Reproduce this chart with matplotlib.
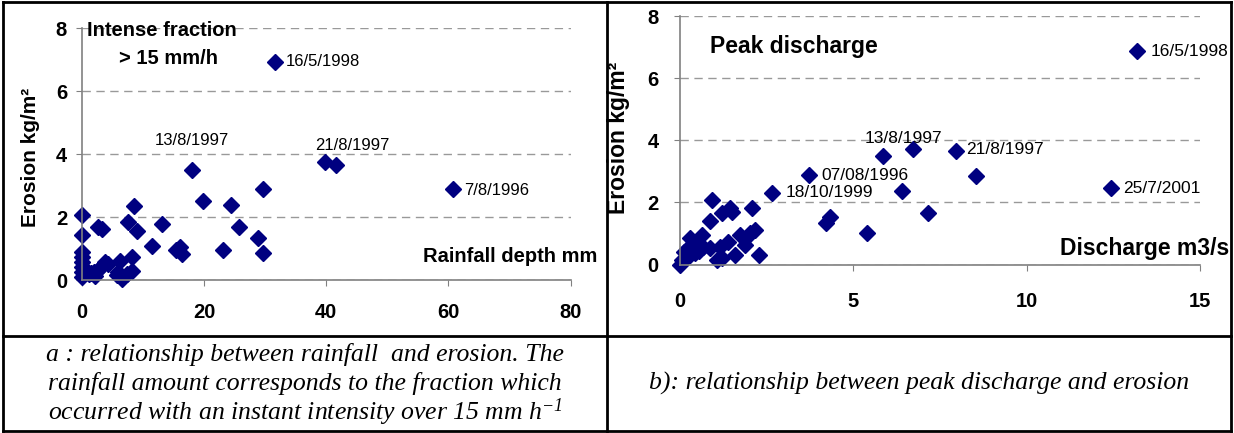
import matplotlib
matplotlib.use("Agg")
import matplotlib.pyplot as plt
from matplotlib.lines import Line2D

plt.rcParams['font.family'] = ['Liberation Sans', 'DejaVu Sans']
plt.rcParams['font.weight'] = 'bold'
plt.rcParams['mathtext.fontset'] = 'custom'
plt.rcParams['mathtext.it'] = 'Liberation Serif:italic:normal'
plt.rcParams['mathtext.rm'] = 'Liberation Serif:italic:normal'

# panel a: intense rainfall fraction (mm) vs erosion (kg/m2)
rain_mm = [0, 0, 0, 0, 0, 0, 0, 0, 0.8, 1.2, 1.6, 2.0, 2.2, 2.5, 2.7, 3.3, 3.3,
           3.8, 4.3, 5.8, 6.0, 6.3, 6.6, 7.4, 7.6, 8.2, 8.2, 8.5, 9.0, 11.5,
           13.1, 15.5, 16.1, 16.4, 18.0, 19.8, 23.1, 24.5, 25.8, 28.8, 29.6,
           29.6, 31.6, 39.8, 41.6, 60.8]
erosion_a = [2.08, 1.44, 0.88, 0.72, 0.56, 0.40, 0.25, 0.09, 0.30, 0.20, 0.22,
             0.25, 0.14, 0.30, 1.70, 1.63, 0.46, 0.56, 0.52, 0.15, 0.25, 0.62,
             0.04, 0.20, 1.84, 0.30, 0.72, 2.34, 1.56, 1.09, 1.79, 0.97, 1.06,
             0.84, 3.51, 2.51, 0.97, 2.38, 1.69, 1.32, 2.89, 0.87, 6.93, 3.76,
             3.67, 2.89]
xticks_a = [0, 20, 40, 60, 80]
labels_a = ["16/5/1998", "13/8/1997", "21/8/1997", "7/8/1996"]
label_pos_a = [(33.4, 6.93, 'left'), (18.1, 4.44, 'center'),
               (44.3, 4.29, 'center'), (62.6, 2.86, 'left')]

# panel b: peak discharge (m3/s) vs erosion (kg/m2)
discharge = [0.0, 0.05, 0.1, 0.19, 0.2, 0.29, 0.3, 0.34, 0.43, 0.48, 0.55, 0.63,
             0.67, 0.87, 0.87, 0.91, 1.06, 1.15, 1.2, 1.2, 1.39, 1.44, 1.49,
             1.59, 1.73, 1.87, 1.92, 2.02, 2.07, 2.16, 2.29, 2.66, 3.72, 4.2,
             4.33, 5.40, 5.85, 6.39, 6.71, 7.16, 7.95, 8.53, 12.42, 13.17]
erosion_b = [0.0, 0.14, 0.41, 0.25, 0.5, 0.84, 0.3, 0.63, 0.36, 0.73, 0.45,
             0.95, 0.57, 0.52, 1.41, 2.08, 0.14, 0.57, 0.2, 1.65, 0.73, 1.81,
             1.70, 0.31, 0.95, 0.63, 0.90, 1.0, 1.81, 1.11, 0.31, 2.31, 2.88,
             1.35, 1.54, 1.0, 3.49, 2.37, 3.71, 1.65, 3.65, 2.85, 2.47, 6.88]
xticks_b = [0, 5, 10, 15]
labels_b = ["16/5/1998", "13/8/1997", "21/8/1997", "07/08/1996",
            "18/10/1999", "25/7/2001"]
label_pos_b = [(13.56, 6.85, 'left'), (6.45, 4.06, 'center'),
               (8.24, 3.71, 'left'), (4.09, 2.88, 'left'),
               (3.05, 2.31, 'left'), (12.79, 2.45, 'left')]

yticks = [0, 2, 4, 6, 8]

navy = '#000080'
axis_col = '#808080'

fig = plt.figure(figsize=(12.34, 4.33), dpi=100)


def style(ax, xlim, xticks, ypad, xpad):
    ax.set_xlim(xlim)
    ax.set_ylim(0, 8)
    ax.set_xticks(xticks)
    ax.set_yticks(yticks)
    for s in ['top', 'right']:
        ax.spines[s].set_visible(False)
    for s in ['left', 'bottom']:
        ax.spines[s].set_color(axis_col)
        ax.spines[s].set_linewidth(1.2)
    ax.tick_params(axis='both', direction='out', length=4.5, color=axis_col,
                   labelsize=14.5)
    ax.tick_params(axis='y', pad=ypad)
    ax.tick_params(axis='x', pad=xpad)
    ax.yaxis.grid(True, linestyle=(0, (6, 4)), color='#999999', linewidth=1)
    ax.set_axisbelow(True)


# left chart
ax1 = fig.add_axes([0.0662, 0.3533, 0.3963, 0.5813])
style(ax1, (0, 80), xticks_a, 6, 12)
ax1.plot(rain_mm, erosion_a, 'D', color=navy, markersize=8, clip_on=False)
for txt, (x, y, ha) in zip(labels_a, label_pos_a):
    ax1.text(x, y, txt, fontsize=12, fontweight='normal', ha=ha, va='center')
ax1.text(0.9, 7.94, "Intense fraction", fontsize=14.5, ha='left', va='center')
ax1.text(14.2, 7.05, "> 15 mm/h", fontsize=14.5, ha='center', va='center')
ax1.text(84.3, 0.74, "Rainfall depth mm", fontsize=14.5, ha='right',
         va='center')
fig.text(30 / 1234, 1 - 157 / 433, "Erosion kg/m²", rotation=90,
         fontsize=15, ha='center', va='center')

# right chart
ax2 = fig.add_axes([0.5511, 0.3891, 0.4214, 0.5739])
style(ax2, (0, 15), xticks_b, 11, 15)
ax2.plot(discharge, erosion_b, 'D', color=navy, markersize=8, clip_on=False)
for txt, (x, y, ha) in zip(labels_b, label_pos_b):
    ax2.text(x, y, txt, fontsize=12.5, fontweight='normal', ha=ha, va='center')
ax2.text(0.87, 7.01, "Peak discharge", fontsize=16.5, ha='left', va='center')
ax2.text(15.83, 0.52, "Discharge m3/s", fontsize=16.5, ha='right', va='center')
fig.text(618 / 1234, 1 - 138 / 433, "Erosion kg/m²", rotation=90,
         fontsize=16.5, ha='center', va='center')

# table frame around charts and captions
W, H = 1234.0, 433.0
frame = [((3, 2), (1231, 2)), ((3, 431), (1231, 431)), ((3, 2), (3, 431)),
         ((1231, 2), (1231, 431)), ((3, 336), (1231, 336)),
         ((607, 2), (607, 431))]
for (xa, ya), (xb, yb) in frame:
    fig.add_artist(Line2D([xa / W, xb / W], [1 - ya / H, 1 - yb / H],
                          transform=fig.transFigure, color='black', lw=2))

cap = dict(family='Liberation Serif', style='italic', fontweight='normal',
           fontsize=18.5, ha='center', va='center')
fig.text(305 / W, 1 - 355 / H,
         "a : relationship between rainfall  and erosion. The", **cap)
fig.text(305 / W, 1 - 383.5 / H,
         "rainfall amount corresponds to the fraction which", **cap)
fig.text(305 / W, 1 - 412 / H,
         "occurred with an instant intensity over 15 mm h$^{-1}$", **cap)
fig.text(919 / W, 1 - 383.5 / H,
         "b): relationship between peak discharge and erosion", **cap)

# make sure every tick label is drawn bold
fig.canvas.draw()
for ax in (ax1, ax2):
    for lab in ax.get_xticklabels() + ax.get_yticklabels():
        lab.set_fontweight('bold')

fig.savefig("out.png", dpi=100)
